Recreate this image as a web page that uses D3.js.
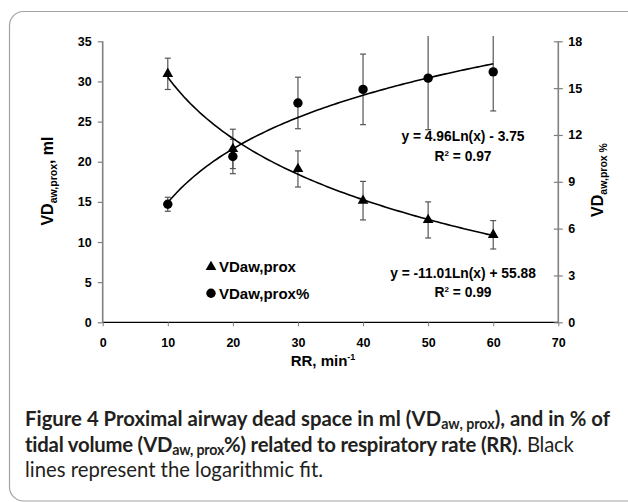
<!DOCTYPE html>
<html>
<head>
<meta charset="utf-8">
<script src="https://cdn.jsdelivr.net/npm/d3@7"></script>
<style>
  body { margin: 0; background: #fff; }
  text { font-family: "Liberation Sans", Arial, sans-serif; }
  .cap { font-family: Lato, "Open Sans", sans-serif; }
</style>
</head>
<body>
<div id="chart"></div>
<script>
// values
var rr = [10, 20, 30, 40, 50, 60];
var vdMl = [30.95, 21.6, 19.1, 15.15, 12.75, 10.9];
var vdMlErr = [1.95, 2.45, 2.25, 2.4, 2.25, 1.77];
var vdPct = [7.56, 10.62, 14.05, 14.92, 15.64, 16.04];
var vdPctErr = [0.45, 1.1, 1.65, 2.26, 3.3, 2.5];
var xTicks = [0, 10, 20, 30, 40, 50, 60, 70];
var leftTicks = [0, 5, 10, 15, 20, 25, 30, 35];
var rightTicks = [0, 3, 6, 9, 12, 15, 18];
// logarithmic fits printed on the chart
var fitMl = { a: -11.01, b: 55.88, r2: "0.99" };
var fitPct = { a: 4.96, b: -3.75, r2: "0.97" };

var svg = d3.select("#chart").append("svg")
  .attr("width", 628)
  .attr("height", 502);

// frame round figure
svg.append("rect")
  .attr("x", 9.5).attr("y", 11.5)
  .attr("width", 650).attr("height", 489.5)
  .attr("rx", 14)
  .attr("fill", "none")
  .attr("stroke", "#a3a3a3")
  .attr("stroke-width", 1.2);

var x = d3.scaleLinear().domain([0, 70]).range([102.7, 558.3]);
var yL = d3.scaleLinear().domain([0, 35]).range([322.3, 41.3]);
var yR = d3.scaleLinear().domain([0, 18]).range([322.3, 41.3]);

svg.append("clipPath").attr("id", "plotclip")
  .append("rect")
  .attr("x", 95).attr("y", 36)
  .attr("width", 470).attr("height", 300);

// x axis
var gx = svg.append("g")
  .attr("transform", "translate(0," + yL(0) + ")")
  .call(d3.axisBottom(x).tickValues(xTicks).tickSize(4).tickPadding(12));
gx.select(".domain").attr("stroke", "#000").attr("stroke-width", 1.3);
gx.selectAll(".tick line").attr("stroke", "#808080");

// left axis
var gl = svg.append("g")
  .attr("transform", "translate(" + x(0) + ",0)")
  .call(d3.axisLeft(yL).tickValues(leftTicks).tickSize(5).tickPadding(6));
gl.select(".domain").attr("stroke", "#808080").attr("stroke-width", 1.6);
gl.selectAll(".tick line").attr("stroke", "#808080").attr("stroke-width", 1.2);

// right axis, ticks cross the line
var gr = svg.append("g")
  .attr("transform", "translate(" + x(70) + ",0)")
  .call(d3.axisRight(yR).tickValues(rightTicks).tickSize(4.5).tickPadding(5.5));
gr.select(".domain").attr("stroke", "#808080").attr("stroke-width", 1.6);
gr.selectAll(".tick line").attr("x1", -4.5).attr("stroke", "#808080").attr("stroke-width", 1.2);

svg.selectAll(".tick text")
  .attr("fill", "#000")
  .style("font-size", "12.5px")
  .style("font-weight", "bold")
  .style("font-family", '"Liberation Sans", Arial, sans-serif');
// plain axis lines without outer ticks
gx.select(".domain").attr("d", "M" + x(0) + ",0H" + x(70));
gl.select(".domain").attr("d", "M0," + yL(0) + "V" + yL(35));
gr.select(".domain").attr("d", "M0," + yR(0) + "V" + yR(18));

var plot = svg.append("g").attr("clip-path", "url(#plotclip)");

function errorBars(vals, errs, y) {
  var g = plot.append("g")
    .attr("stroke", "#555")
    .attr("stroke-width", 1.2);
  rr.forEach(function (r, i) {
    var cx = x(r);
    var top = y(vals[i] + errs[i]);
    var bot = y(vals[i] - errs[i]);
    g.append("line").attr("x1", cx).attr("x2", cx).attr("y1", top).attr("y2", bot);
    g.append("line").attr("x1", cx - 3).attr("x2", cx + 3).attr("y1", top).attr("y2", top);
    g.append("line").attr("x1", cx - 3).attr("x2", cx + 3).attr("y1", bot).attr("y2", bot);
  });
}
errorBars(vdPct, vdPctErr, yR);
errorBars(vdMl, vdMlErr, yL);

// fitted curves
var fitX = d3.range(10, 60.01, 0.5);
var line = d3.line();
plot.append("path")
  .attr("d", line(fitX.map(function (v) { return [x(v), yL(fitMl.a * Math.log(v) + fitMl.b)]; })))
  .attr("fill", "none").attr("stroke", "#000").attr("stroke-width", 1.6);
plot.append("path")
  .attr("d", line(fitX.map(function (v) { return [x(v), yR(fitPct.a * Math.log(v) + fitPct.b)]; })))
  .attr("fill", "none").attr("stroke", "#000").attr("stroke-width", 1.6);

var tri = d3.symbol().type(d3.symbolTriangle).size(50);
plot.selectAll(".tri")
  .data(rr)
  .enter()
  .append("path")
  .attr("d", tri)
  .attr("transform", function (d, i) { return "translate(" + x(d) + "," + yL(vdMl[i]) + ")"; })
  .attr("fill", "#000");

plot.selectAll(".dot")
  .data(rr)
  .enter()
  .append("circle")
  .attr("cx", function (d) { return x(d); })
  .attr("cy", function (d, i) { return yR(vdPct[i]); })
  .attr("r", 4.7)
  .attr("fill", "#000");

// legend
svg.append("path").attr("d", tri).attr("transform", "translate(211,267)");
svg.append("circle").attr("cx", 211).attr("cy", 293.3).attr("r", 4.7);
svg.append("text").attr("x", 219).attr("y", 272)
  .style("font-size", "15px").style("font-weight", "bold").text("VDaw,prox");
svg.append("text").attr("x", 219).attr("y", 298.5)
  .style("font-size", "15px").style("font-weight", "bold").text("VDaw,prox%");

// equations
function eq(txt, r2, y0) {
  svg.append("text").attr("x", 463).attr("y", y0)
    .attr("text-anchor", "middle")
    .style("font-size", "13.8px").style("font-weight", "bold")
    .text(txt);
  var t = svg.append("text").attr("x", 463).attr("y", y0 + 19.5)
    .attr("text-anchor", "middle")
    .style("font-size", "13.8px").style("font-weight", "bold");
  t.append("tspan").text("R");
  t.append("tspan").attr("dy", -5).style("font-size", "8px").text("2");
  t.append("tspan").attr("dy", 5).text(" = " + r2);
}
eq("y = " + fitPct.a.toFixed(2) + "Ln(x) - " + Math.abs(fitPct.b).toFixed(2), fitPct.r2, 141);
eq("y = " + fitMl.a.toFixed(2) + "Ln(x) + " + fitMl.b.toFixed(2), fitMl.r2, 277.5);

// axis titles
var xt = svg.append("text").attr("x", 323).attr("y", 366)
  .attr("text-anchor", "middle")
  .style("font-size", "15px").style("font-weight", "bold");
xt.append("tspan").text("RR, min");
xt.append("tspan").attr("dy", -6).style("font-size", "9px").text("-1");

var ylt = svg.append("text")
  .attr("transform", "translate(53,181) rotate(-90)")
  .attr("text-anchor", "middle")
  .style("font-size", "16px").style("font-weight", "bold");
ylt.append("tspan").text("VD");
ylt.append("tspan").attr("dy", 4).style("font-size", "10.5px").text("aw,prox");
ylt.append("tspan").attr("dy", -4).text(", ml");

var yrt = svg.append("text")
  .attr("transform", "translate(603,180) rotate(-90)")
  .attr("text-anchor", "middle")
  .style("font-size", "16px").style("font-weight", "bold");
yrt.append("tspan").text("VD");
yrt.append("tspan").attr("dy", 4).style("font-size", "10.5px").text("aw,prox %");

// caption
var capLines = [
  { y: 426, w: 585, parts: [
    { t: "Figure 4 Proximal airway dead space in ml (VD", b: 1 },
    { t: "aw, prox", b: 1, sub: 1 },
    { t: "), and in % of", b: 1 }] },
  { y: 451.5, w: 549, parts: [
    { t: "tidal volume (VD", b: 1 },
    { t: "aw, prox", b: 1, sub: 1 },
    { t: "%) related to respiratory rate (RR)", b: 1 },
    { t: ". Black", b: 0 }] },
  { y: 476.5, w: null, parts: [
    { t: "lines represent the logarithmic fit.", b: 0 }] }
];
var capSize = 15;
var capTexts = capLines.map(function (ln) {
  var t = svg.append("text").attr("class", "cap")
    .attr("x", 25).attr("y", ln.y)
    .style("font-size", capSize + "px").attr("fill", "#231f20");
  var shifted = false;
  ln.parts.forEach(function (p) {
    var s = t.append("tspan").text(p.t)
      .style("font-weight", p.b ? "bold" : "normal");
    if (p.sub) {
      s.attr("dy", 3).style("font-size", "0.7em");
      shifted = true;
    } else if (shifted) {
      s.attr("dy", -3);
      shifted = false;
    }
  });
  return t;
});
// scale caption so first line spans the same width as in the figure
var k = capLines[0].w / capTexts[0].node().getComputedTextLength();
capTexts.forEach(function (t, i) {
  t.style("font-size", (capSize * k) + "px");
  if (capLines[i].w) {
    var natural = t.node().getComputedTextLength();
    t.style("letter-spacing", ((capLines[i].w - natural) / t.text().length) + "px");
  }
});
</script>
</body>
</html>
